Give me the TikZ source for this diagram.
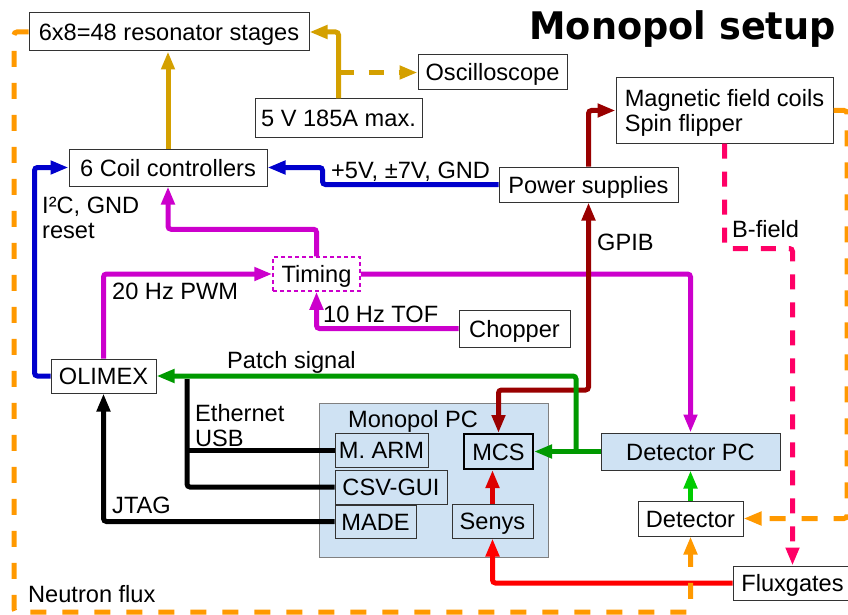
\documentclass[tikz,border=0pt]{standalone}
\usepackage{fontspec}
\setmainfont{Liberation Sans}
\newfontfamily\titlefont{DejaVu Sans}
\usetikzlibrary{arrows.meta}
\definecolor{cgold}{RGB}{212,160,0}
\definecolor{corange}{RGB}{255,153,0}
\definecolor{cblue}{RGB}{0,0,204}
\definecolor{cmag}{RGB}{204,0,204}
\definecolor{cdred}{RGB}{153,0,0}
\definecolor{cgreen}{RGB}{0,153,0}
\definecolor{clgreen}{RGB}{0,204,0}
\definecolor{cred}{RGB}{255,0,0}
\definecolor{cred2}{RGB}{221,0,0}
\definecolor{cpink}{RGB}{255,0,102}
\definecolor{cfill}{RGB}{207,226,243}
\definecolor{boxgray}{RGB}{51,51,51}
\begin{document}
\begin{tikzpicture}[x=1pt,y=-1pt,
  every node/.style={font=\fontsize{23.6pt}{25pt}\selectfont},
  box/.style={draw=boxgray, line width=1pt, inner sep=0pt, text height=17pt, text depth=0pt, fill=white},
  pcbox/.style={box, fill=cfill},
  lbl/.style={anchor=base west, inner sep=0pt},
  tip/.style={-{Triangle[length=18pt,width=13pt]}},
  conn/.style={line width=5pt, rounded corners=3pt},
]
\useasboundingbox (0,0) rectangle (848,615);

% title
\node[anchor=base east, inner sep=0pt, font=\titlefont\bfseries\fontsize{38pt}{40pt}\selectfont] (title) at (836,40) {\scalebox{0.965}[1]{Monopol setup}};

% boxes
\node[box, minimum width=280pt, minimum height=38pt] (res) at (169,32) {6x8=48 resonator stages};
\node[box, minimum width=149pt, minimum height=35pt] (osc) at (492.5,72.5) {Oscilloscope};
\node[box, minimum width=167pt, minimum height=38pt] (volt) at (338.5,118) {5 V 185A max.};
\node[box, minimum width=217pt, minimum height=65pt, align=left, text height=42pt, text depth=0pt] (mag) at (724.5,110.5) {Magnetic field coils\\Spin flipper};
\node[box, minimum width=179pt, minimum height=35pt] (ps) at (588.5,184.5) {Power supplies};
\node[box, minimum width=198pt, minimum height=37pt] (coil) at (168,167.5) {6 Coil controllers};
\node[box, draw=cmag, line width=1.5pt, dash pattern=on 4pt off 3pt, minimum width=87pt, minimum height=34pt] (timing) at (316.5,274) {Timing};
\node[box, minimum width=111pt, minimum height=37pt] (chopper) at (514.5,328.5) {Chopper};
\node[box, minimum width=105pt, minimum height=34pt] (olimex) at (103.5,376) {OLIMEX};

\node[pcbox, draw=gray, minimum width=229pt, minimum height=154pt] (monopc) at (433.5,480) {};
\node[lbl] (monolbl) at (348,427) {Monopol PC};
\node[pcbox, minimum width=93pt, minimum height=34pt] (marm) at (381.5,450) {M. ARM};
\node[pcbox, minimum width=112pt, minimum height=34pt] (csv) at (391,487) {CSV-GUI};
\node[pcbox, minimum width=81pt, minimum height=33pt] (made) at (375.5,521.5) {MADE};
\node[pcbox, draw=black, line width=2pt, minimum width=69pt, minimum height=35pt] (mcs) at (498.5,451.5) {MCS};
\node[pcbox, minimum width=81pt, minimum height=34pt] (senys) at (492.5,521) {Senys};
\node[pcbox, minimum width=179pt, minimum height=37pt] (detpc) at (690.5,451.5) {Detector PC};
\node[box, minimum width=105pt, minimum height=35pt] (det) at (690.5,518.5) {Detector};
\node[box, minimum width=119pt, minimum height=34pt] (flux) at (792.5,583) {Fluxgates};

% coordinates
\coordinate (vb) at (338.5,72.5);
\coordinate (gb) at (576,451.5);
\coordinate (ethtop) at (187,379);
\coordinate (nfl) at (14,612);
\coordinate (nfr) at (847,518.5);

% gold
\draw[conn, cgold, tip] (coil.north) -- (coil.north |- res.south);
\draw[conn, cgold, tip] (volt.north) |- (res.east);
\draw[conn, cgold, tip, dash pattern=on 15pt off 15pt] (vb) -- (osc.west);

% blue
\draw[conn, cblue, tip] (ps.west) -- ++(-176,0) |- (coil.east);
\draw[conn, cblue, tip] (olimex.west) -- ++(-16,0) |- (coil.west);

% magenta
\draw[conn, cmag, tip] (timing.north) -- ++(0,-27) -| (coil.south);
\draw[conn, cmag, tip] (olimex.north) |- (timing.west);
\draw[conn, cmag, tip] (chopper.west) -| (timing.south);
\draw[conn, cmag, tip] (timing.east) -| (detpc.north);

% dark red
\draw[conn, cdred, tip] (ps.north) |- (mag.west);
\draw[conn, cdred, {Triangle[length=18pt,width=13pt]}-{Triangle[length=18pt,width=13pt]}] (mcs.north) -- ++(0,-43) -| (ps.south);

% green
\draw[conn, cgreen, tip] (detpc.west) -- (mcs.east);
\draw[conn, cgreen, tip] (gb) |- (olimex.east);

% black
\draw[conn, black, tip] (made.west) -| (olimex.south);
\draw[conn, black] (csv.west) -| (ethtop);
\draw[conn, black] (marm.west) -- (marm.west -| ethtop);

% red
\draw[conn, cred, tip] (flux.west) -| (senys.south);
\draw[conn, cred2, tip] (senys.north) -- (senys.north |- mcs.south);

% light green
\draw[conn, clgreen, tip] (det.north) -- (detpc.south);

% orange neutron flux
\draw[conn, corange, tip, dash pattern=on 16pt off 16pt] (res.west) -| (nfl) -| (det.south);
\draw[conn, corange, tip, dash pattern=on 16pt off 16pt] (mag.east) -| (nfr) -- (det.east);

% pink B-field
\draw[conn, cpink, tip, dash pattern=on 15pt off 13pt] (mag.south) -- ++(0,105) -| (flux.north);

% labels
\node[lbl] (l5v) at (331,178) {+5V, ±7V, GND};
\node[lbl, align=left] (li2c) at (42,238) {I²C, GND\\reset};
\node[lbl] (lpwm) at (112,299) {20 Hz PWM};
\node[lbl] (ltof) at (323,322) {10 Hz TOF};
\node[lbl] (lpatch) at (227,368) {Patch signal};
\node[lbl] (lgpib) at (597,250) {GPIB};
\node[lbl] (lbf) at (732,237) {B-field};
\node[lbl, align=left] (leth) at (195,446) {Ethernet\\USB};
\node[lbl] (ljtag) at (112,513) {JTAG};
\node[lbl] (lnf) at (28,602) {Neutron flux};
\end{tikzpicture}
\end{document}
